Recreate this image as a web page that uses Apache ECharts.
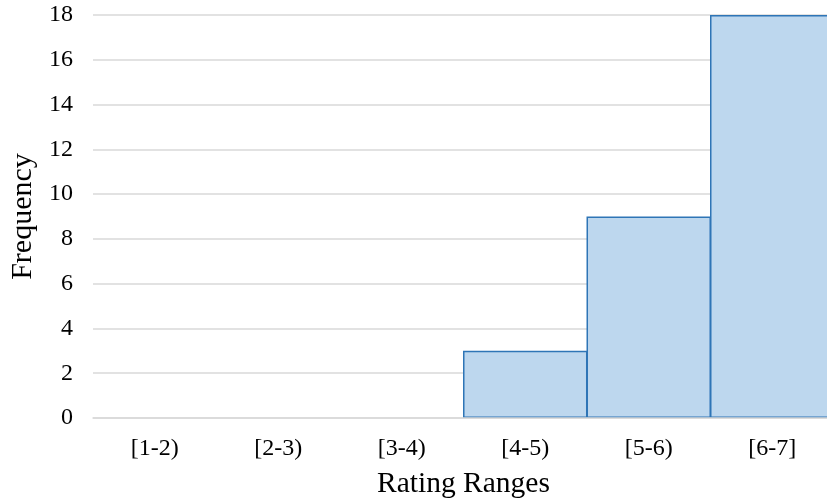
<!DOCTYPE html>
<html>
<head>
<meta charset="utf-8">
<script src="https://cdn.jsdelivr.net/npm/echarts@6/dist/echarts.min.js"></script>
<style>
html,body{margin:0;padding:0;background:#fff;overflow:hidden;width:827px;height:504px;}
#chart{width:834px;height:504px;}
</style>
</head>
<body>
<div id="chart"></div>
<script>
const categories = ['[1-2)', '[2-3)', '[3-4)', '[4-5)', '[5-6)', '[6-7]'];
const frequencies = [0, 0, 0, 3, 9, 18];
const yTicks = { min: 0, max: 18, interval: 2 };

const font = "'Times New Roman', 'Liberation Serif', serif";
const chart = echarts.init(document.getElementById('chart'), null, { renderer: 'canvas' });
chart.setOption({
  animation: false,
  backgroundColor: '#ffffff',
  grid: { left: 92, right: 0, top: 15, bottom: 86, containLabel: false },
  xAxis: {
    type: 'category',
    z: 5,
    data: categories,
    name: 'Rating Ranges',
    nameLocation: 'middle',
    nameGap: 51,
    nameTextStyle: { fontFamily: font, fontSize: 29.5, color: '#000' },
    axisLine: { show: true, lineStyle: { color: '#d9d9d9', width: 1.5 } },
    axisTick: { show: false },
    axisLabel: { fontFamily: font, fontSize: 24, color: '#000', margin: 19 },
    splitLine: { show: false }
  },
  yAxis: {
    type: 'value',
    min: yTicks.min,
    max: yTicks.max,
    interval: yTicks.interval,
    name: 'Frequency',
    nameLocation: 'middle',
    nameGap: 55,
    nameRotate: 90,
    nameTextStyle: { fontFamily: font, fontSize: 30, color: '#000' },
    axisLine: { show: false },
    axisTick: { show: false },
    axisLabel: { fontFamily: font, fontSize: 24, color: '#000', margin: 20 },
    splitLine: { show: true, lineStyle: { color: '#d9d9d9', width: 1.5 } }
  },
  series: [{
    type: 'bar',
    data: frequencies.map(v => v === 0 ? { value: v, itemStyle: { borderWidth: 0 } } : v),
    barWidth: '100.8%',
    itemStyle: { color: '#BDD7EE', borderColor: '#2E75B6', borderWidth: 1.5 }
  }]
});
</script>
</body>
</html>
